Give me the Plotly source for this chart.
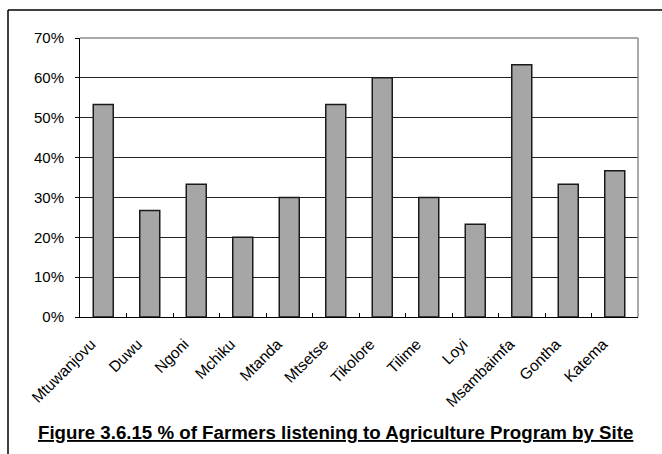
import plotly.graph_objects as go

# Share of farmers listening to the agriculture programme, by site
sites = ["Mtuwanjovu", "Duwu", "Ngoni", "Mchiku", "Mtanda", "Mtsetse",
         "Tikolore", "Tilime", "Loyi", "Msambaimfa", "Gontha", "Katema"]
percent_listening = [53.3, 26.7, 33.3, 20.0, 30.0, 53.3,
                     60.0, 30.0, 23.3, 63.3, 33.3, 36.7]
y_ticks = [0, 10, 20, 30, 40, 50, 60, 70]
y_tick_labels = [f"{v}%" for v in y_ticks]
caption = "Figure 3.6.15 % of Farmers listening to Agriculture Program by Site"

W, H = 662, 454
L, R, T, B = 80, 24, 38, 137
pw, ph = W - L - R, H - T - B

def px_x(x):
    return (x - L) / pw

def px_y(y):
    return (H - B - y) / ph

font = "Liberation Sans, Arial, sans-serif"

fig = go.Figure(go.Bar(
    x=sites,
    y=percent_listening,
    marker=dict(color="#a6a6a6", line=dict(color="#1a1a1a", width=1.5)),
    width=0.43,
))

fig.update_layout(
    width=W, height=H,
    margin=dict(l=L, r=R, t=T, b=B),
    paper_bgcolor="white",
    plot_bgcolor="white",
    showlegend=False,
    font=dict(family=font, size=15, color="black"),
    xaxis=dict(
        type="category",
        tickangle=-45,
        tickson="boundaries",
        ticks="inside",
        ticklen=4,
        tickcolor="black",
        showline=True,
        linecolor="black",
        linewidth=1,
        showgrid=False,
        ticklabelstandoff=11,
        ticklabelshift=-12,
        tickfont=dict(size=15.5),
    ),
    yaxis=dict(
        range=[0, 70],
        tickvals=y_ticks,
        ticktext=y_tick_labels,
        ticks="outside",
        ticklen=4,
        tickcolor="black",
        showline=True,
        linecolor="black",
        linewidth=1,
        showgrid=True,
        gridcolor="#222222",
        gridwidth=1,
        zeroline=False,
        ticklabelstandoff=8,
        tickfont=dict(size=15),
    ),
    shapes=[
        # plot-area frame on top and right
        dict(type="line", xref="paper", yref="paper", x0=0, x1=1, y0=1, y1=1,
             line=dict(color="#8c8c8c", width=1.5)),
        dict(type="line", xref="paper", yref="paper", x0=1, x1=1, y0=0, y1=1,
             line=dict(color="#8c8c8c", width=1.5)),
        # outer chart border (top and left)
        dict(type="line", xref="paper", yref="paper",
             x0=px_x(8), x1=px_x(W + 2), y0=px_y(10), y1=px_y(10),
             line=dict(color="black", width=1.5)),
        dict(type="line", xref="paper", yref="paper",
             x0=px_x(8), x1=px_x(8), y0=px_y(10), y1=px_y(H + 5),
             line=dict(color="black", width=1.5)),
    ],
    annotations=[
        dict(text=f"<b><u>{caption}</u></b>", xref="paper", yref="paper",
             x=px_x(335.5), y=px_y(432), xanchor="center", yanchor="middle",
             showarrow=False, font=dict(family=font, size=18.7, color="black")),
    ],
)

fig.write_html("out.html")
